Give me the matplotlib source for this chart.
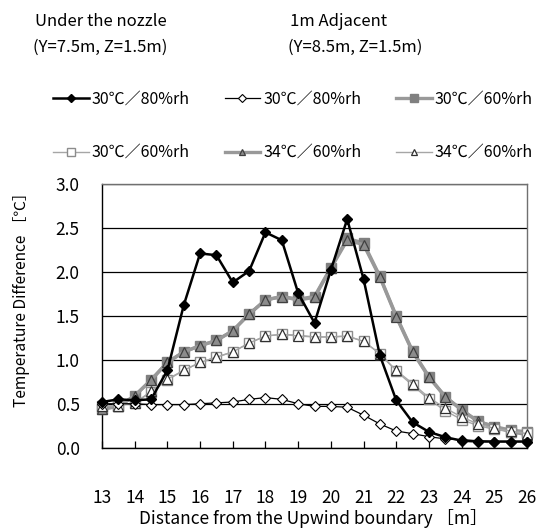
import matplotlib
matplotlib.use("Agg")
import matplotlib.pyplot as plt
import numpy as np

plt.rcParams['font.family'] = ['Noto Sans CJK JP', 'DejaVu Sans']

x = [13, 13.5, 14, 14.5, 15, 15.5, 16, 16.5, 17, 17.5, 18, 18.5, 19, 19.5,
     20, 20.5, 21, 21.5, 22, 22.5, 23, 23.5, 24, 24.5, 25, 25.5, 26]

under_30_80 = [0.52, 0.55, 0.54, 0.55, 0.88, 1.62, 2.21, 2.19, 1.88, 2.01, 2.45, 2.36, 1.76, 1.42,
               2.02, 2.60, 1.92, 1.05, 0.54, 0.29, 0.18, 0.12, 0.08, 0.07, 0.07, 0.07, 0.07]
adj_30_80 = [0.50, 0.50, 0.50, 0.49, 0.49, 0.49, 0.50, 0.51, 0.52, 0.55, 0.57, 0.55, 0.50, 0.47,
             0.47, 0.46, 0.37, 0.27, 0.19, 0.16, 0.125, 0.10, 0.09, 0.08, 0.07, 0.07, 0.07]
under_30_60 = [0.44, 0.47, 0.59, 0.77, 0.97, 1.09, 1.16, 1.22, 1.33, 1.52, 1.68, 1.72, 1.69, 1.72,
               2.05, 2.38, 2.33, 1.95, 1.50, 1.10, 0.81, 0.58, 0.43, 0.30, 0.24, 0.20, 0.18]
adj_30_60 = [0.47, 0.48, 0.51, 0.63, 0.77, 0.88, 0.97, 1.03, 1.09, 1.19, 1.27, 1.29, 1.28, 1.26,
             1.26, 1.27, 1.21, 1.07, 0.87, 0.71, 0.55, 0.42, 0.32, 0.25, 0.21, 0.18, 0.17]
under_34_60 = [0.44, 0.47, 0.59, 0.77, 0.97, 1.09, 1.16, 1.22, 1.33, 1.52, 1.68, 1.72, 1.68, 1.71,
               2.04, 2.36, 2.31, 1.94, 1.49, 1.09, 0.80, 0.58, 0.43, 0.30, 0.24, 0.18, 0.15]
adj_34_60 = [0.47, 0.48, 0.51, 0.64, 0.78, 0.88, 0.97, 1.03, 1.09, 1.19, 1.27, 1.29, 1.27, 1.26,
             1.26, 1.27, 1.21, 1.07, 0.88, 0.73, 0.57, 0.45, 0.35, 0.27, 0.22, 0.19, 0.16]

labels = ["30℃／80%rh", "30℃／80%rh", "30℃／60%rh", "30℃／60%rh", "34℃／60%rh", "34℃／60%rh"]
xticks = list(range(13, 27))
yticks = [0.0, 0.5, 1.0, 1.5, 2.0, 2.5, 3.0]

FS = 12

fig = plt.figure(figsize=(5.37, 5.30), dpi=100)
ax = fig.add_axes([102/537, (530-447.7)/530, (527-102)/537, (447.7-184)/530])

kw = dict(clip_on=False)
l3, = ax.plot(x, under_30_60, color='#999999', lw=2.4, marker='s', ms=7.5,
              mfc='#808080', mec='#808080', label=labels[2], zorder=3, **kw)
l5, = ax.plot(x, under_34_60, color='#999999', lw=2.4, marker='^', ms=7,
              mfc='#8c8c8c', mec='#404040', mew=0.9, label=labels[4], zorder=4, **kw)
l4, = ax.plot(x, adj_30_60, color='#a6a6a6', lw=1.0, marker='s', ms=7.5,
              mfc='white', mec='#8c8c8c', mew=1.0, label=labels[3], zorder=5, **kw)
l6, = ax.plot(x, adj_34_60, color='#a6a6a6', lw=1.0, marker='^', ms=6.5,
              mfc='white', mec='#303030', mew=0.9, label=labels[5], zorder=6, **kw)
l2, = ax.plot(x, adj_30_80, color='black', lw=0.9, marker='D', ms=5.5,
              mfc='white', mec='black', mew=0.8, label=labels[1], zorder=7, **kw)
l1, = ax.plot(x, under_30_80, color='black', lw=1.8, marker='D', ms=5.5,
              mfc='black', mec='black', label=labels[0], zorder=8, **kw)

ax.set_xlim(13, 26)
ax.set_ylim(0, 3.0)
ax.set_xticks(xticks)
ax.set_yticks(yticks)
ax.set_yticklabels([f"{v:.1f}" for v in yticks])
ax.yaxis.grid(True, color='black', lw=0.9)
ax.set_axisbelow(True)
for s in ['top', 'right']:
    ax.spines[s].set_color('#707070')
    ax.spines[s].set_linewidth(1.0)
for s in ['left', 'bottom']:
    ax.spines[s].set_color('black')
    ax.spines[s].set_linewidth(1.0)
ax.tick_params(axis='x', direction='in', length=5, width=0.9, pad=30, labelsize=12.5)
ax.tick_params(axis='y', length=0, pad=16, labelsize=12.5)

fig.text(313/537, 1 - 518/530, "Distance from the Upwind boundary ［m］",
         fontsize=12.5, ha='center', va='center')
fig.text(22/537, 1 - 296/530, "Temperature Difference ［℃］",
         fontsize=11.2, ha='center', va='center', rotation=90)

fig.text(35/537, 1 - 22/530, "Under the nozzle", fontsize=FS, va='center', ha='left')
fig.text(33/537, 1 - 47/530, "(Y=7.5m, Z=1.5m)", fontsize=FS, va='center', ha='left')
fig.text(290/537, 1 - 22/530, "1m Adjacent", fontsize=FS, va='center', ha='left')
fig.text(288/537, 1 - 47/530, "(Y=8.5m, Z=1.5m)", fontsize=FS, va='center', ha='left')

handles = [l1, l4, l2, l5, l3, l6]
fig.legend(handles=handles, labels=[h.get_label() for h in handles], ncol=3,
           loc='upper left', bbox_to_anchor=(47/537, 1 - 84/530), frameon=False,
           fontsize=11.5, handlelength=2.2, handletextpad=0.2, columnspacing=2.2,
           labelspacing=2.3, markerscale=0.7, borderaxespad=0)

fig.savefig("out.png", dpi=100)
